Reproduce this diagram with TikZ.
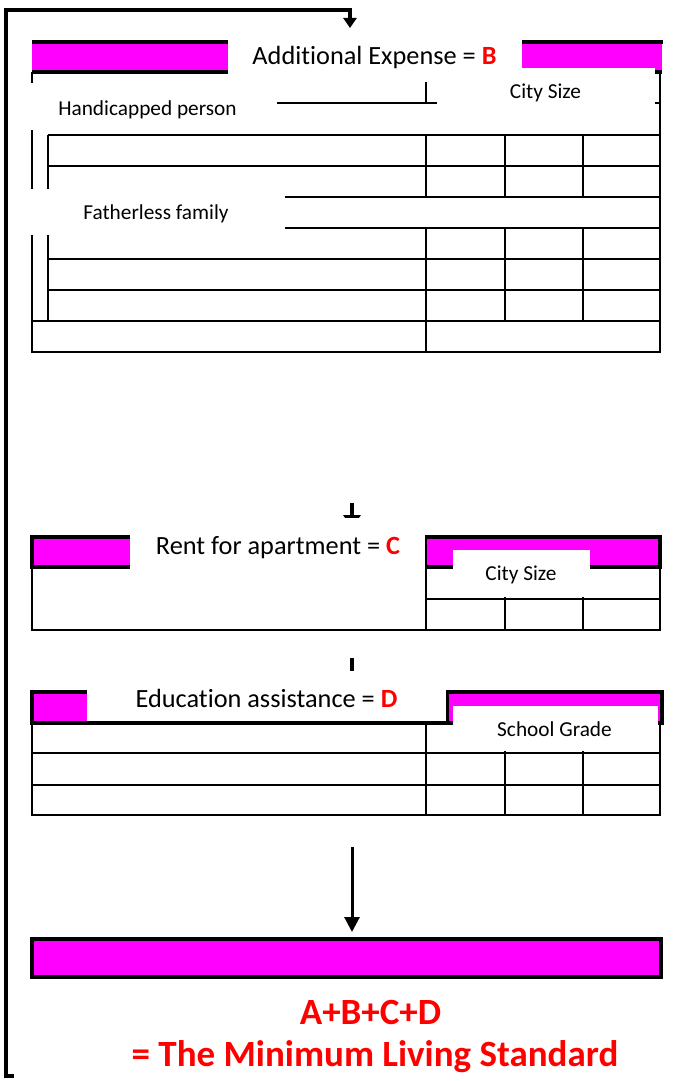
\documentclass[tikz,border=0pt]{standalone}
\usepackage{fontspec}
\setmainfont{Carlito}[Ligatures=NoCommon]
\usetikzlibrary{arrows.meta}
\definecolor{mag}{RGB}{255,0,255}
\definecolor{tred}{RGB}{255,0,0}
\begin{document}
\begin{tikzpicture}[x=1pt,y=-1pt,
  barline/.style={line width=3.5pt},
  tline/.style={line width=2.2pt},
  thinline/.style={line width=1.4pt},
  cover/.style={fill=white},
  title/.style={font=\fontsize{26.3}{30}\selectfont, inner sep=0pt},
  sub/.style={font=\fontsize{21.3}{25}\selectfont, inner sep=0pt},
  final/.style={font=\fontsize{37}{44}\selectfont\bfseries, text=tred, inner sep=0pt, anchor=base},
  flowline/.style={line width=4pt, line join=miter},
]
\useasboundingbox (0,0) rectangle (673,1081);

% ---------- Block B ----------
\fill[mag] (32,42) rectangle (662,72);
\draw[barline] (32,42) -- (663,42);
\draw[barline] (32,72) -- (662,72);
\draw[tline] (32,72) -- (32,352) -- (660,352) -- (660,72);
\draw[tline] (32,103) -- (660,103);
\draw[tline] (426,72) -- (426,103);
\draw[tline] (48,135) -- (48,321);
\foreach \y in {135,166,197,228,259,290} \draw[tline] (48,\y) -- (660,\y);
\draw[tline] (32,321) -- (660,321);
\draw[tline] (426,135) -- (426,197);
\draw[tline] (426,228) -- (426,352);
\foreach \x in {505,583} {
  \draw[thinline] (\x,135) -- (\x,197);
  \draw[thinline] (\x,228) -- (\x,321);
}
\fill[cover] (228,30) rectangle (522,82);
\fill[cover] (437,68) rectangle (655,130);
\fill[cover] (12,83) rectangle (277,130);
\fill[cover] (12,189) rectangle (285,235);
\node[title] (tB) at (374.5,57) {Additional Expense = \textcolor{tred}{\textbf{B}}};
\node[sub] (csB) at (545.5,92.5) {City Size};
\node[sub] (hp) at (147.5,110) {Handicapped person};
\node[sub] (ff) at (156,214) {Fatherless family};

% ---------- Block C ----------
\coordinate (c1) at (352,503);
\coordinate (c2) at (352,528);
\draw[line width=3.5pt, -{Triangle[width=17pt,length=13pt]}] (c1) -- (c2);
\fill[mag] (32,537) rectangle (660,567);
\draw[barline] (32,537) rectangle (660,567);
\draw[tline] (32,567) -- (32,630) -- (660,630) -- (660,567);
\draw[tline] (426,537) -- (426,630);
\draw[tline] (426,599) -- (660,599);
\foreach \x in {505,583} \draw[thinline] (\x,597) -- (\x,630);
\fill[cover] (130,518) rectangle (424.5,570);
\fill[cover] (453,550) rectangle (590,595);
\node[title] (tC) at (278,548) {Rent for apartment = \textcolor{tred}{\textbf{C}}};
\node[sub] (csC) at (521,575) {City Size};

% ---------- Block D ----------
\coordinate (d1) at (352,658);
\coordinate (d2) at (352,700);
\draw[line width=4pt, -{Triangle[width=17pt,length=13pt]}] (d1) -- (d2);
\fill[mag] (32,692) rectangle (662,723);
\draw[barline] (32,692) rectangle (662,723);
\draw[barline] (447,692) -- (447,723);
\draw[tline] (32,723) -- (32,815) -- (660,815) -- (660,723);
\draw[tline] (426,723) -- (426,815);
\draw[tline] (32,753) -- (660,753);
\draw[tline] (32,785) -- (660,785);
\foreach \x in {505,583} \draw[thinline] (\x,751) -- (\x,815);
\fill[cover] (87,671) rectangle (445.5,721);
\fill[cover] (453,706) rectangle (658,751);
\node[title] (tD) at (266.5,698) {Education assistance = \textcolor{tred}{\textbf{D}}};
\node[sub] (sg) at (554.5,729.5) {School Grade};

% ---------- Result ----------
\draw[barline, fill=mag] (32,939) rectangle (661,977);
\coordinate (e1) at (352,847);
\coordinate (e2) at (352,932);
\draw[line width=3pt, -{Triangle[width=15pt,length=15pt]}] (e1) -- (e2);
\node[final] (sum) at (370.5,1024) {A+B+C+D};
\node[final] (mls) at (375,1066) {= The Minimum Living Standard};

% ---------- Loop back ----------
\coordinate (l0) at (14,1076);
\coordinate (l1) at (6,1076);
\coordinate (l2) at (6,10);
\coordinate (l3) at (350,10);
\coordinate (l4) at (350,28);
\draw[flowline, -{Triangle[width=13pt,length=10pt]}] (l0) -- (l1) -- (l2) -- (l3) -- (l4);
\end{tikzpicture}
\end{document}
